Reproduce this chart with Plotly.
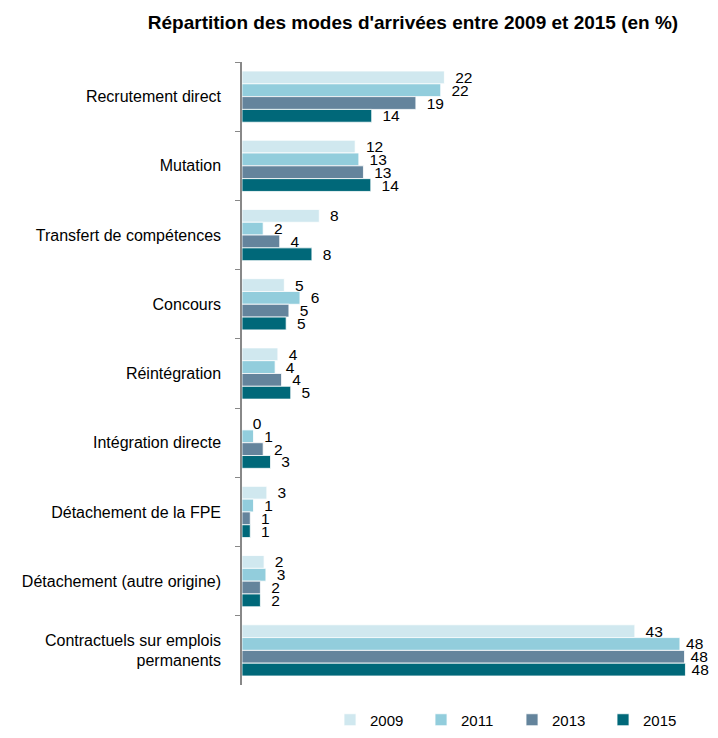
import plotly.graph_objects as go

categories = [
    "Recrutement direct",
    "Mutation",
    "Transfert de compétences",
    "Concours",
    "Réintégration",
    "Intégration directe",
    "Détachement de la FPE",
    "Détachement (autre origine)",
    "Contractuels sur emplois<br>permanents",
]
years = ["2009", "2011", "2013", "2015"]
v2009 = [22.0, 12.3, 8.4, 4.6, 3.9, 0.0, 2.7, 2.4, 42.7]
v2011 = [21.6, 12.7, 2.3, 6.3, 3.6, 1.25, 1.25, 2.6, 47.6]
v2013 = [18.9, 13.2, 4.1, 5.1, 4.3, 2.3, 0.9, 2.0, 48.1]
v2015 = [14.1, 14.0, 7.6, 4.8, 5.3, 3.1, 0.9, 2.0, 48.2]
series = [v2009, v2011, v2013, v2015]
colors = ["#D0E8EF", "#92CDDC", "#64849C", "#006879"]

FONT = "Liberation Sans, Arial, sans-serif"
W, H = 702, 722  # page body has an 8px margin


def label(v):
    s = f"{int(v + 0.5):d}"
    return ("\u2009" + s) if v > 45 else ("\u2002" + s)


fig = go.Figure()
for name, vals, col in zip(years, series, colors):
    fig.add_trace(go.Bar(
        y=categories, x=vals, name=name, orientation="h",
        marker=dict(color=col, line=dict(color="white", width=0.8)),
        text=[label(v) for v in vals], textposition="outside",
        textfont=dict(size=15.5, color="black", family=FONT),
        constraintext="none", cliponaxis=False,
    ))

fig.update_layout(
    width=W, height=H,
    plot_bgcolor="white", paper_bgcolor="white",
    barmode="group", bargap=0.26, bargroupgap=0,
    margin=dict(l=234, r=W - 694.5, t=54, b=H - 677, autoexpand=False),
    font=dict(family=FONT, size=14, color="black"),
    title=dict(text="<b>Répartition des modes d'arrivées entre 2009 et 2015 (en %)</b>",
               x=405 / W, xanchor="center", y=1 - 14 / H, yanchor="middle",
               font=dict(size=19, family=FONT, color="black")),
    legend=dict(orientation="h", x=0.587, xanchor="center", y=-35 / 623, yanchor="middle",
                font=dict(size=15, family=FONT), entrywidth=46, entrywidthmode="pixels",
                traceorder="normal"),
)
fig.update_xaxes(range=[0, 50], visible=False, showgrid=False, automargin=False)
fig.update_yaxes(autorange="reversed", showline=True, linecolor="#888888", linewidth=1.5,
                 ticks="outside", tickson="boundaries", ticklen=5, tickcolor="#888888",
                 showgrid=False, tickfont=dict(size=16, family=FONT), ticklabelstandoff=16,
                 automargin=False)

fig.write_html("out.html")
